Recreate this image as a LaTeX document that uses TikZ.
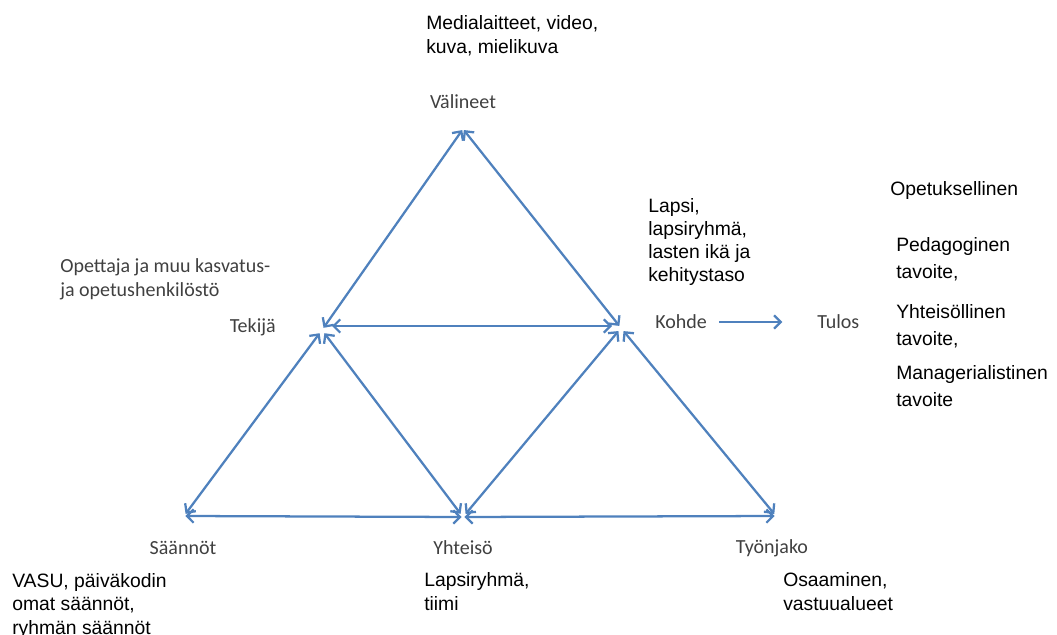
\documentclass[tikz,border=0pt]{standalone}
\usepackage{fontspec}
\setmainfont{Liberation Sans}
\newfontfamily\calib{Carlito}
\usetikzlibrary{arrows.meta}
\definecolor{arrowblue}{RGB}{79,129,189}
\definecolor{labelgray}{RGB}{64,64,64}
\begin{document}
\begin{tikzpicture}[x=0.75pt,y=-0.75pt,
  conn/.style={draw=arrowblue,line width=1.7pt,{Straight Barb[length=5pt,width=10pt]}-{Straight Barb[length=5pt,width=10pt]}},
  oneway/.style={draw=arrowblue,line width=1.7pt,-{Straight Barb[length=5pt,width=10pt]}},
  vlabel/.style={font=\calib\fontsize{15}{18}\selectfont,text=labelgray,inner sep=0pt},
  note/.style={font=\fontsize{14.5}{18}\selectfont,align=left,anchor=base west,inner sep=0pt},
  cnote/.style={font=\calib\fontsize{15}{18}\selectfont,text=labelgray,align=left,anchor=base west,inner sep=0pt}]
\useasboundingbox (0,0) rectangle (1057,635);
% vertices
\coordinate (V) at (463,129);
\coordinate (T) at (322,330);
\coordinate (K) at (621,328);
\coordinate (S) at (184,516);
\coordinate (Y) at (463,517);
\coordinate (W) at (776,516);
\coordinate (Tr) at (332,326);
\coordinate (Kl) at (612,326);
% vertex labels
\node[vlabel] (valineet) at (463,102) {Välineet};
\node[vlabel,anchor=east] (tekija) at (276,327) {Tekijä};
\node[vlabel,anchor=west] (kohde) at (655,322) {Kohde};
\node[vlabel,anchor=west] (tulos) at (817,322) {Tulos};
\node[vlabel] (saannot) at (183,548) {Säännöt};
\node[vlabel] (yhteiso) at (463,548) {Yhteisö};
\node[vlabel] (tyonjako) at (772,548) {Työnjako};
% connectors
\draw[conn,shorten <=1pt,shorten >=2pt] (V) -- (T);
\draw[conn,shorten <=1pt,shorten >=2pt] (V) -- (K);
\draw[conn] (Tr) -- (Kl);
\draw[conn,shorten <=3pt,shorten >=2pt] (T) -- (S);
\draw[conn,shorten <=3pt,shorten >=3pt] (T) -- (Y);
\draw[conn,shorten <=3pt,shorten >=3pt] (K) -- (Y);
\draw[conn,shorten <=3pt,shorten >=2pt] (K) -- (W);
\draw[conn,shorten <=1pt,shorten >=1pt] (S) -- (Y);
\draw[conn,shorten <=1pt,shorten >=1pt] (Y) -- (W);
\draw[oneway,shorten <=9pt,shorten >=26pt] (kohde.east) -- (tulos.west);
% notes (anchored at the baseline of their last line)
\node[note] (media) at (426,54) {Medialaitteet, video,\\kuva, mielikuva};
\node[note] (opetus) at (890,195) {Opetuksellinen};
\node[note,font=\fontsize{14.5}{20}\selectfont] (peda) at (896,278) {Pedagoginen\\tavoite,};
\node[note,font=\fontsize{14.5}{20}\selectfont] (yhteis) at (896,345) {Yhteisöllinen\\tavoite,};
\node[note,font=\fontsize{14.5}{20}\selectfont] (manag) at (896,406) {Managerialistinen\\tavoite};
\node[note,font=\fontsize{14.5}{17.2}\selectfont] (lapsi) at (648,281) {Lapsi,\\lapsiryhmä,\\lasten ikä ja\\kehitystaso};
\node[cnote] (opettaja) at (60,296) {Opettaja ja muu kasvatus-\\ja opetushenkilöstö};
\node[note,font=\fontsize{14.5}{17.6}\selectfont] (vasu) at (12,634) {VASU, päiväkodin\\omat säännöt,\\ryhmän säännöt};
\node[note,font=\fontsize{14.5}{17.6}\selectfont] (lapsiryhma) at (424,610) {Lapsiryhmä,\\tiimi};
\node[note,font=\fontsize{14.5}{17.6}\selectfont] (osaaminen) at (783,610) {Osaaminen,\\vastuualueet};
\end{tikzpicture}
\end{document}
